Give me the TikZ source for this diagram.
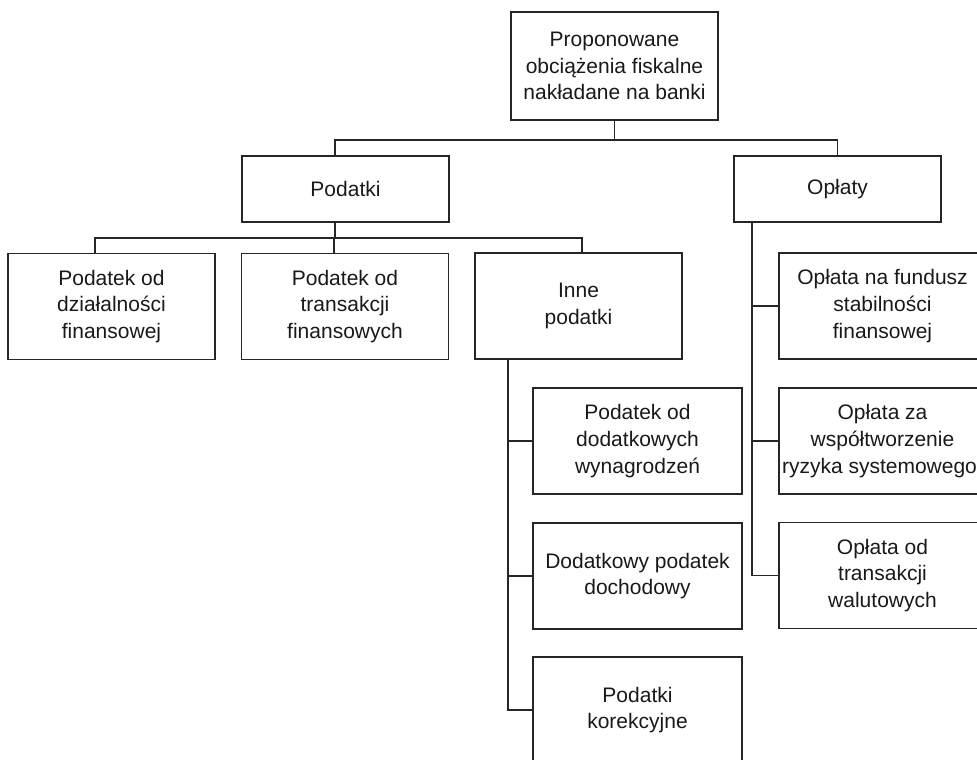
\documentclass[tikz,border=0pt]{standalone}
\usepackage{fontspec}
\setmainfont{Liberation Sans}
\begin{document}
\begin{tikzpicture}[x=1pt,y=-1pt,
  box/.style={draw=black!85,line width=1.3pt,rectangle,inner sep=0pt,align=center,
    minimum width=207pt,minimum height=106pt,text=black!90,
    font=\fontsize{21}{26.7}\selectfont},
  lowbox/.style={box,minimum height=66pt},
  conn/.style={draw=black!85,line width=1.3pt}]
\useasboundingbox (0,0) rectangle (977,760);
\node[box,minimum height=108pt] (top) at (614.5,66) {Proponowane\\obciążenia fiskalne\\nakładane na banki};
\node[lowbox] (podatki) at (345.5,189) {Podatki};
\node[lowbox] (oplaty) at (837.5,189) {Opłaty};
\node[box] (a1) at (111.5,306.5) {Podatek od\\działalności\\finansowej};
\node[box] (a2) at (345,306.5) {Podatek od\\transakcji\\finansowych};
\node[box] (a3) at (578.5,306) {Inne\\podatki};
\node[box,minimum width=209pt] (b1) at (637.5,441) {Podatek od\\dodatkowych\\wynagrodzeń};
\node[box,minimum width=209pt] (b2) at (637.5,576) {Dodatkowy podatek\\dochodowy};
\node[box,minimum width=209pt] (b3) at (637.5,710) {Podatki\\korekcyjne};
\node[box] (c1) at (882.5,306) {Opłata na fundusz\\stabilności\\finansowej};
\node[box] (c2) at (882.5,441) {Opłata za\\współtworzenie\\\hspace*{-6pt}ryzyka systemowego};
\node[box] (c3) at (882.5,575.5) {Opłata od\\transakcji\\walutowych};
% level 1
\coordinate (bus1) at (614.5,140);
\draw[conn] (top.south) -- (bus1);
\draw[conn] (bus1) -| ([xshift=-10.5pt]podatki.north);
\draw[conn] (bus1) -| (oplaty.north);
% level 2
\coordinate (bus2) at (335,238);
\draw[conn] ([xshift=-10.5pt]podatki.south) -- (bus2);
\draw[conn] (bus2) -| ([xshift=-16.5pt]a1.north);
\draw[conn] (bus2) -| ([xshift=-11pt]a2.north);
\draw[conn] (bus2) -| ([xshift=3.5pt]a3.north);
% Inne podatki
\coordinate (s3) at ([xshift=-70.5pt]a3.south);
\draw[conn] (s3) |- (b3.west);
\draw[conn] (s3) |- (b1.west);
\draw[conn] (s3) |- (b2.west);
% Oplaty
\coordinate (so) at ([xshift=-85.5pt]oplaty.south);
\draw[conn] (so) |- (c3.west);
\draw[conn] (so) |- (c1.west);
\draw[conn] (so) |- (c2.west);
\end{tikzpicture}
\end{document}
